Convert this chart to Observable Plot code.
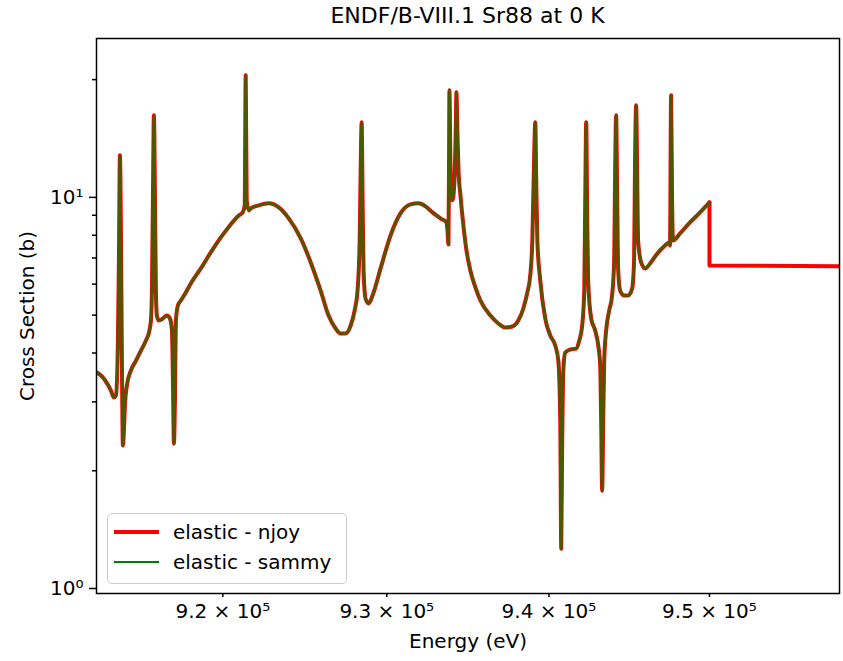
<!DOCTYPE html>
<html>
<head>
<meta charset="utf-8">
<script src="https://cdn.jsdelivr.net/npm/d3@7"></script>
<script src="https://cdn.jsdelivr.net/npm/@observablehq/plot@0.6"></script>
<style>
  body { margin: 0; background: #fff; font-family: "DejaVu Sans", sans-serif; }
  #wrap { position: relative; width: 843px; height: 661px; overflow: hidden; }
  #title { position: absolute; left: 96px; width: 743px; top: 0; height: 30px; line-height: 32px;
           text-align: center; font-size: 22px; color: #000; white-space: nowrap; }
  #chart { position: absolute; left: 0; top: 30px; }
  #legend { position: absolute; left: 107px; top: 513px; width: 240px; height: 71px; box-sizing: border-box;
            border: 1px solid #cccccc; border-radius: 5px; background: rgba(255,255,255,0.8); font-size: 20px; color: #000; }
  .row { position: absolute; left: 0; height: 26px; display: flex; align-items: center; white-space: nowrap; }
  .sw { display: inline-block; width: 45px; margin-left: 6px; margin-right: 14px; }
</style>
</head>
<body>
<div id="wrap">
  <div id="title">ENDF/B-VIII.1 Sr88 at 0 K</div>
  <div id="chart"></div>
  <div id="legend">
    <div class="row" style="top:5px"><span class="sw" style="border-top:4px solid #ff0000"></span><span>elastic - njoy</span></div>
    <div class="row" style="top:35px"><span class="sw" style="border-top:2px solid #008000"></span><span>elastic - sammy</span></div>
  </div>
</div>
<script>
// Energy grid (eV) shared by both evaluations
const energy = [
  912400, 912640, 912940, 913240, 913420, 913540, 913660, 913720, 913780, 913840,
  913900, 913960, 914020, 914080, 914200, 914440, 914750, 915050, 915350, 915530,
  915650, 915710, 915770, 915830, 915890, 915950, 916010, 916130, 916370, 916610,
  916800, 916920, 916980, 917040, 917100, 917160, 917280, 917460, 917760, 918060,
  918670, 919270, 919880, 920480, 920970, 921210, 921330, 921390, 921450, 921580,
  921700, 922180, 922790, 923400, 924010, 924740, 925350, 925950, 926440, 926870,
  927170, 927480, 927790, 928030, 928210, 928340, 928400, 928460, 928520, 928580,
  928700, 928890, 929130, 929620, 930230, 930840, 931460, 931950, 932380, 932810,
  933300, 933670, 933730, 933790, 933830, 933850, 933910, 933970, 934040, 934160,
  934250, 934280, 934340, 934410, 934530, 934710, 934900, 935140, 935450, 935760,
  936380, 936870, 937300, 937730, 938100, 938410, 938660, 938840, 938970, 939090,
  939150, 939210, 939280, 939460, 939770, 940080, 940390, 940580, 940700, 940760,
  940820, 940890, 941010, 941320, 941690, 941880, 942060, 942190, 942250, 942310,
  942370, 942430, 942620, 942870, 943060, 943180, 943240, 943300, 943370, 943430,
  943550, 943740, 943920, 944050, 944110, 944170, 944240, 944300, 944420, 944670,
  944920, 945170, 945290, 945350, 945420, 945480, 945540, 945730, 945980, 946290,
  946600, 946910, 947220, 947470, 947530, 947600, 947660, 947720, 948160, 948780,
  949410, 950000
];
// Elastic cross section (b), sammy
const sigmaSammy = [
  3.566, 3.503, 3.381, 3.206, 3.077, 3.113, 4.305, 6.899, 12.81, 8.234,
  3.827, 2.319, 2.533, 2.935, 3.302, 3.608, 3.827, 4.059, 4.305, 4.512,
  4.843, 5.781, 9.825, 16.21, 10.42, 5.781, 4.988, 4.843, 4.900, 4.988,
  4.900, 4.566, 3.401, 2.346, 3.023, 4.843, 5.291, 5.450, 5.713, 6.025,
  6.581, 7.232, 7.899, 8.529, 8.994, 9.154, 9.540, 20.52, 9.825, 9.263,
  9.373, 9.540, 9.654, 9.428, 8.836, 7.853, 6.818, 5.781, 4.988, 4.620,
  4.486, 4.486, 4.703, 5.137, 5.781, 7.761, 11.73, 15.56, 9.825, 6.504,
  5.514, 5.354, 5.612, 6.581, 7.992, 9.100, 9.596, 9.654, 9.484, 9.154,
  8.836, 8.630, 8.234, 7.581, 13.19, 18.79, 12.44, 10.12, 9.825, 11.05,
  15.74, 18.57, 14.84, 11.73, 10.12, 8.479, 7.318, 6.504, 5.885, 5.450,
  4.988, 4.759, 4.647, 4.675, 4.843, 5.198, 5.713, 6.315, 7.761, 13.19,
  15.56, 11.05, 7.761, 6.132, 4.900, 4.434, 4.180, 3.827, 2.687, 1.264,
  2.388, 3.608, 4.011, 4.083, 4.107, 4.305, 4.703, 5.781, 9.825, 15.56,
  9.263, 6.132, 4.900, 4.566, 4.180, 3.715, 2.687, 1.778, 2.687, 3.827,
  4.566, 5.137, 5.612, 6.899, 11.73, 16.21, 9.825, 6.504, 5.781, 5.612,
  5.612, 5.850, 6.899, 12.44, 17.20, 11.73, 7.761, 6.818, 6.581, 6.778,
  7.063, 7.318, 7.536, 7.670, 7.536, 18.24, 9.825, 7.761, 8.087, 8.630,
  9.154, 9.710
];
// njoy continues past the sammy range end
const njoyTailEnergy = [950000, 950000, 958180];
const njoyTailSigma = [9.710, 6.700, 6.665];

const xTicks = [920000, 930000, 940000, 950000];
const yMajorTicks = [1, 10];
const yMinorTicks = [2, 3, 4, 5, 6, 7, 8, 9, 20];
const supers = {"0": "\u2070", "1": "\u00b9", "5": "\u2075"};

const sammy = energy.map((e, i) => ({e, s: sigmaSammy[i]}));
const njoyTail = njoyTailEnergy.map((e, i) => ({e, s: njoyTailSigma[i]}));

const chart = Plot.plot({
  width: 843,
  height: 631,
  marginLeft: 96,
  marginRight: 4,
  marginTop: 8,
  marginBottom: 68,
  x: {type: "log", domain: [912370, 958180]},
  y: {type: "log", domain: [0.971, 25.48]},
  style: {fontFamily: "DejaVu Sans", fontSize: "20px", color: "black", background: "white"},
  marks: [
    Plot.line(sammy, {x: "e", y: "s", stroke: "#ff0000", strokeWidth: 4, curve: "monotone-x", clip: true}),
    Plot.line(njoyTail, {x: "e", y: "s", stroke: "#ff0000", strokeWidth: 4, curve: "linear", clip: true}),
    Plot.line(sammy, {x: "e", y: "s", stroke: "#008000", strokeWidth: 2.6, strokeOpacity: 0.72, curve: "monotone-x", clip: true}),
    Plot.frame({stroke: "black", strokeWidth: 1.5}),
    Plot.axisX({ticks: xTicks, tickSize: 4, tickPadding: 6, strokeWidth: 1.5, label: null, fontSize: 20,
      tickFormat: d => `${(d / 1e5).toFixed(1)} \u00d7 10\u2075`}),
    Plot.axisY({ticks: yMajorTicks, tickSize: 7, tickPadding: 6, strokeWidth: 1.5, label: null, fontSize: 20,
      tickFormat: d => "10" + supers[String(Math.round(Math.log10(d)))]}),
    Plot.axisY({ticks: yMinorTicks, tickSize: 4, strokeWidth: 1.5, label: null, tickFormat: () => ""}),
    Plot.text(["Energy (eV)"], {text: d => d, frameAnchor: "bottom", lineAnchor: "middle", textAnchor: "middle", dy: 48, fontSize: 20}),
    Plot.text(["Cross Section (b)"], {text: d => d, frameAnchor: "left", lineAnchor: "middle", textAnchor: "middle", dx: -69, rotate: -90, fontSize: 20})
  ]
});
document.getElementById("chart").appendChild(chart);
</script>
</body>
</html>
